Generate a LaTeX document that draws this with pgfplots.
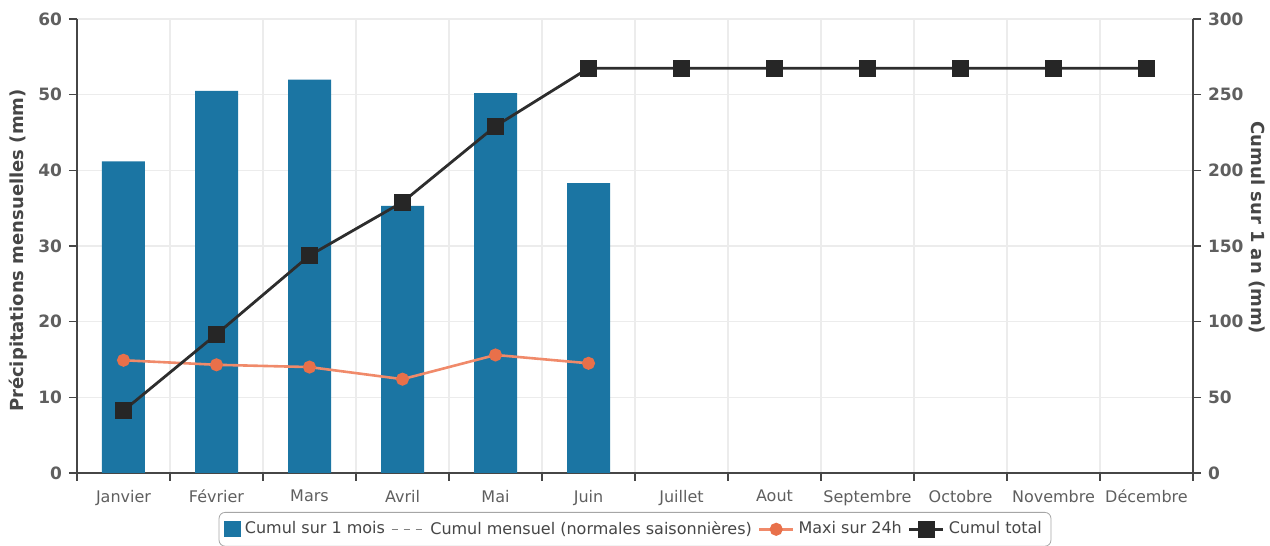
\documentclass[border=0pt]{standalone}
\usepackage{pgfplots}
\pgfplotsset{compat=1.18}
\usepackage{fontspec}
\setmainfont{DejaVu Sans}
\definecolor{barblue}{RGB}{27,117,163}
\definecolor{maxi}{RGB}{240,138,106}
\definecolor{maximk}{RGB}{232,112,74}
\definecolor{cumul}{RGB}{45,45,45}
\definecolor{axisgray}{RGB}{70,70,70}
\definecolor{ticklab}{RGB}{95,95,95}

% monthly totals (mm) and max in 24h (mm)
\pgfplotstableread{
x mois maxi
0 41.2 14.9
1 50.5 14.3
2 52.0 14.0
3 35.3 12.4
4 50.2 15.6
5 38.3 14.5
}\mensuel
% yearly running total (mm)
\pgfplotstableread{
x total
0 41.2
1 91.7
2 143.7
3 179.0
4 229.2
5 267.5
6 267.5
7 267.5
8 267.5
9 267.5
10 267.5
11 267.5
}\cumul

\pgfplotsset{
  common/.style={
    scale only axis, width=558pt, height=227pt,
    xmin=-0.5, xmax=11.5,
    tick align=outside,
    axis line style={axisgray, line width=0.9pt},
    every tick/.style={axisgray, line width=0.8pt},
    major tick length=4pt,
    yticklabel style={font=\fontsize{8.5}{10}\selectfont\bfseries, text=ticklab},
    /pgf/number format/assume math mode=true,
    clip=false,
  }
}

\begin{document}
\begin{tikzpicture}
\useasboundingbox (-38.5pt,-36.5pt) rectangle (596.5pt,236.5pt);
\begin{axis}[common,
  ymin=0, ymax=60, ytick={0,10,...,60},
  axis y line*=left, axis x line*=bottom,
  xtick={-0.5,0.5,...,11.5},
  xticklabels={Janvier,Février,Mars,Avril,Mai,Juin,Juillet,Aout,Septembre,Octobre,Novembre,Décembre,{}},
  xticklabel style={font=\fontsize{8}{10}\selectfont, text=ticklab, xshift=23.25pt, yshift=-1pt},
  x tick style={axisgray, line width=0.8pt},
  xmajorgrids, ymajorgrids,
  major grid style={gray!15, line width=0.6pt},
]
\addplot[ybar, bar width=21.5pt, fill=barblue, draw=none, bar shift=0pt]
  table[x=x, y=mois] {\mensuel};
\addplot[maxi, line width=1.3pt, mark=*, mark size=2.6pt,
  mark options={fill=maximk, draw=maximk}]
  table[x=x, y=maxi] {\mensuel};
\node[rotate=90, xshift=0pt, font=\fontsize{9}{11}\selectfont\bfseries, text=axisgray]
  at ([xshift=-29.5pt]rel axis cs:0,0.49) {Précipitations mensuelles (mm)};
\end{axis}
\begin{axis}[common,
  ymin=0, ymax=300, ytick={0,50,...,300},
  axis y line*=right, axis x line=none,
  legend columns=-1,
  legend style={at={(rel axis cs:0.5,0)}, anchor=north, yshift=-19.5pt,
    draw=gray!70, rounded corners=3pt, font=\fontsize{8}{10}\selectfont,
    text=axisgray, inner sep=2.5pt,
    /tikz/every even column/.append style={column sep=1pt}},
]
\addlegendimage{legend image code/.code={\fill[barblue, sharp corners] (0pt,-3.8pt) rectangle (8pt,3.8pt);}}
\addlegendentry{Cumul sur 1 mois}
\addlegendimage{dashed, gray, line width=0.6pt}
\addlegendentry{Cumul mensuel (normales saisonnières)}
\addlegendimage{maxi, line width=1.3pt, mark=*, mark size=2.6pt, mark options={fill=maximk, draw=maximk}}
\addlegendentry{Maxi sur 24h}
\addplot[cumul, line width=1.4pt, mark=square*, mark size=3.5pt,
  mark options={fill=black!85, draw=black!85}]
  table[x=x, y=total] {\cumul};
\addlegendentry{Cumul total}
\node[rotate=-90, font=\fontsize{9}{11}\selectfont\bfseries, text=axisgray]
  at ([xshift=32pt]rel axis cs:1,0.54) {Cumul sur 1 an (mm)};
\end{axis}
\end{tikzpicture}
\end{document}
